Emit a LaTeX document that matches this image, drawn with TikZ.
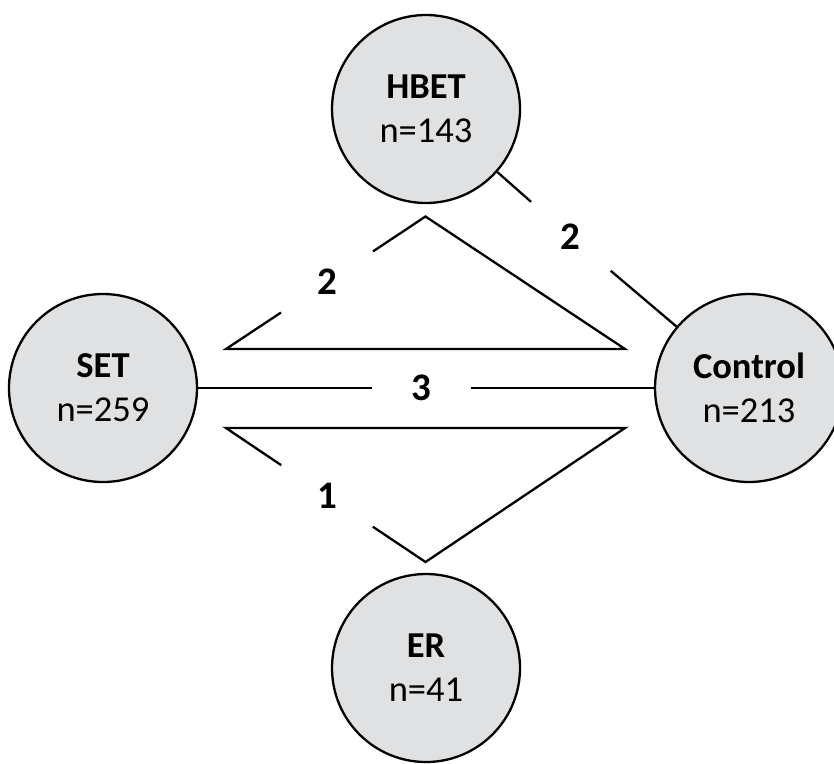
\documentclass[tikz,border=0pt]{standalone}
\usepackage{fontspec}
\setmainfont{Carlito}
\usetikzlibrary{positioning}
\definecolor{armgray}{RGB}{224,225,227}
\tikzset{
  arm/.style   = {circle, draw=black, line width=2.3pt, fill=armgray,
                  minimum size=188pt, inner sep=0pt, align=center,
                  font=\fontsize{36.5}{44}\selectfont},
  count/.style = {circle, inner sep=0pt,
                  font=\fontsize{39}{44}\selectfont\bfseries},
  link/.style  = {line width=2.3pt, line join=miter}
}

\begin{document}
\begin{tikzpicture}[x=1pt, y=-1pt]
\useasboundingbox (0,0) rectangle (834,763);

% Study arms
\node[arm] at (426,109) (hbet) {\textbf{HBET}\\n=143};
\node[arm] at (103,388) (set) {\textbf{SET}\\n=259};
\node[arm] at (749,388) (control) {\textbf{Control}\\n=213};
\node[arm] at (426,668) (er) {\textbf{ER}\\n=41};

% HBET vs Control
\node[count, minimum size=105pt] at (570.5,236.7) (c1) {2};
\draw[link] (hbet) -- (c1) -- (control);

% SET vs Control
\node[count, minimum size=99pt] at (421.5,388) (c2) {3};
\draw[link] (set) -- (c2) -- (control);

% upper wedge
\coordinate (tl) at (226,349);
\coordinate (tr) at (625,349);
\coordinate (tt) at (425.5,216.5);
\node[count, minimum size=110pt] at (327,282) (c3) {2};
\draw[link] (c3) -- (tt) -- (tr) -- (tl) -- (c3);

% lower wedge
\coordinate (bl) at (226,428);
\coordinate (br) at (625,428);
\coordinate (bb) at (425.5,562);
\node[count, minimum size=110pt] at (327,496) (c4) {1};
\draw[link] (c4) -- (bb) -- (br) -- (bl) -- (c4);

\end{tikzpicture}
\end{document}
